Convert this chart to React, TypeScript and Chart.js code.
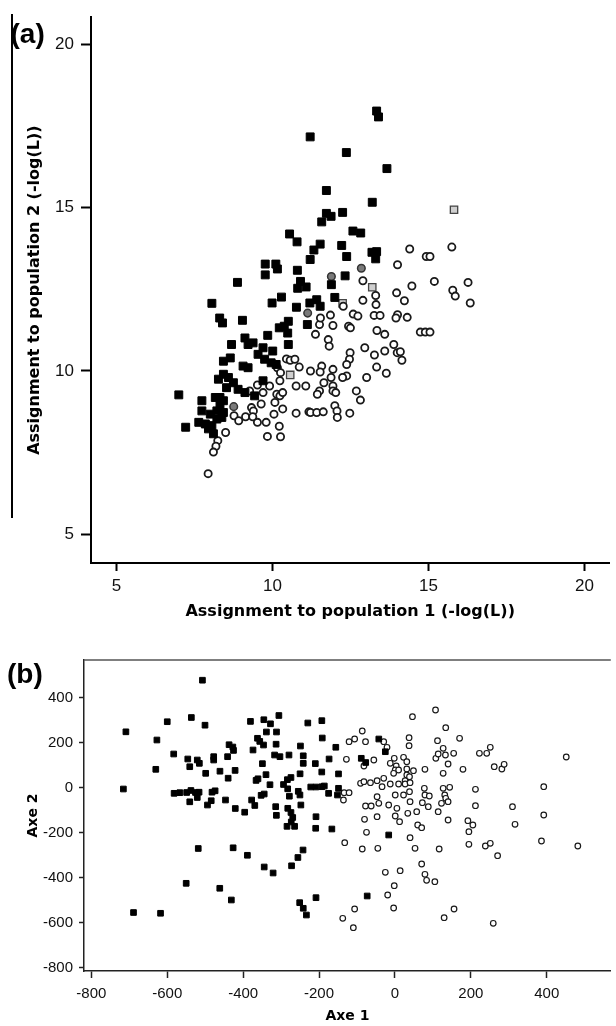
import React, { useEffect, useRef } from "react";
import { Chart, registerables } from "chart.js";

Chart.register(...registerables);

// ---------- Panel (a): assignment log-likelihoods ----------
const aTicks = [5, 10, 15, 20];

const aPop1X = [13.34,13.40,11.21,12.37,13.67,11.73,13.20,12.25,11.73,11.88,11.58,12.58,12.83,10.55,10.79,11.53,12.22,11.33,13.19,13.34,13.31,12.38,11.21,9.77,10.11,9.77,10.16,10.80,12.33,8.88,10.90,10.81,11.08,11.89,10.29,9.99,12.00,8.06,10.77,11.20,11.42,11.53,8.31,9.04,10.51,8.40,11.12,10.38,10.49,10.51,8.69,9.12,9.22,9.38,9.70,9.85,10.01,8.43,9.06,9.22,9.54,9.75,9.96,10.12,8.27,8.43,8.59,8.75,9.70,8.53,8.90,9.12,9.43,8.32,8.43,8.17,7.74,7.74,8.01,8.22,8.43,8.32,7.64,7.85,7.95,8.11,7.22,8.06,8.22,8.38,7.00,8.65,10.22];
const aPop1Y = [17.95,17.77,17.16,16.68,16.19,15.52,15.16,14.85,14.82,14.73,14.56,14.28,14.22,14.19,13.95,13.88,13.84,13.70,13.63,13.65,13.43,13.50,13.41,13.27,13.27,12.94,13.12,13.08,12.91,12.71,12.74,12.53,12.57,12.64,12.26,12.08,12.25,12.07,11.95,12.08,12.18,11.98,11.62,11.55,11.52,11.47,11.42,11.37,11.16,10.81,10.81,11.01,10.81,10.86,10.71,11.09,10.61,10.30,10.15,10.10,10.51,10.36,10.25,10.20,9.75,9.90,9.80,9.64,9.70,9.49,9.44,9.34,9.24,9.19,9.09,9.19,9.09,8.78,8.68,8.78,8.73,8.94,8.43,8.38,8.23,8.08,8.28,8.33,8.53,8.58,9.27,10.40,11.32];

const aPop2X = [14.40,15.75,14.93,15.05,14.01,12.90,14.47,15.19,16.27,15.78,15.86,16.34,13.31,13.32,13.98,14.23,12.90,12.27,11.86,12.59,12.74,13.26,13.45,14.01,14.32,13.96,14.74,14.90,15.05,13.35,13.60,12.44,12.50,11.94,11.51,11.38,11.79,11.82,12.96,13.89,14.00,14.10,14.15,13.60,13.27,12.49,12.47,12.38,13.34,13.65,13.02,10.45,10.57,10.72,10.16,10.26,10.86,11.22,11.58,11.53,11.94,11.88,11.94,12.38,12.25,10.24,10.76,11.07,11.51,11.44,11.94,12.03,12.69,12.82,10.14,10.24,9.52,9.27,9.70,10.08,9.64,9.33,9.39,8.77,8.92,9.14,9.37,9.80,9.52,10.05,10.33,10.76,11.17,11.22,11.42,11.63,12.00,12.07,12.08,12.48,10.22,10.26,9.84,8.50,8.25,8.19,8.11,7.94,11.65,9.91,11.54,10.33];
const aPop2Y = [13.73,13.79,13.50,13.50,13.25,12.76,12.60,12.74,12.71,12.47,12.29,12.08,12.31,12.03,12.39,12.15,12.16,11.98,11.71,11.74,11.68,11.70,11.70,11.72,11.64,11.62,11.19,11.19,11.19,11.24,11.12,11.37,11.32,11.39,11.42,11.12,10.96,10.76,10.71,10.81,10.56,10.59,10.33,10.61,10.49,10.56,10.36,10.20,10.12,9.93,9.80,10.37,10.33,10.36,10.10,9.95,10.12,10.00,10.15,9.97,10.05,9.80,9.54,9.85,9.80,9.70,9.54,9.54,9.39,9.29,9.39,9.34,9.39,9.11,9.29,9.24,9.57,9.39,9.34,9.04,8.99,8.88,8.78,8.63,8.48,8.60,8.60,8.43,8.43,8.68,8.84,8.71,8.75,8.73,8.73,8.75,8.94,8.78,8.58,8.71,8.31,7.99,8.00,8.12,7.87,7.70,7.52,6.86,9.64,9.54,11.62,9.34];

const aGrayCircX = [12.85, 11.89, 11.13, 8.76];
const aGrayCircY = [13.14, 12.89, 11.77, 8.91];
const aGraySqX = [15.82, 13.20, 12.25, 10.57];
const aGraySqY = [14.93, 12.56, 12.07, 9.88];

// ---------- Panel (b): factorial axes ----------
const bTicks = [-800, -600, -400, -200, 0, 200, 400];

const bPop1X = [-507.3,-709.0,-600.0,-536.5,-500.5,-627.3,-630.2,-715.6,-583.0,-545.9,-520.9,-515.4,-540.7,-498.7,-477.6,-477.6,-461.1,-441.0,-437.1,-427.2,-425.4,-421.2,-439.5,-581.9,-566.8,-548.8,-537.6,-525.6,-516.2,-540.7,-520.9,-494.0,-484.1,-482.0,-473.9,-446.5,-420.7,-395.9,-380.7,-345.5,-328.0,-305.8,-338.7,-312.1,-362.2,-356.2,-346.3,-313.2,-374.0,-349.2,-317.1,-303.0,-279.2,-249.0,-241.6,-241.6,-339.8,-360.9,-365.9,-329.3,-293.6,-283.4,-274.0,-250.0,-282.6,-254.7,-221.8,-208.2,-192.3,-186.1,-209.8,-192.8,-173.5,-155.8,-148.7,-229.6,-192.6,-191.5,-278.2,-250.3,-352.6,-344.5,-377.6,-369.3,-314.2,-312.4,-282.4,-274.0,-269.3,-273.2,-264.4,-284.4,-247.9,-208.0,-208.8,-166.2,-151.4,-174.8,-148.7,-518.3,-426.4,-388.8,-344.5,-321.0,-272.4,-255.7,-242.2,-550.1,-461.6,-431.1,-688.9,-617.7,-251.0,-241.6,-233.3,-208.0,-73.1,-16.4,-42.5,-25.3,-88.7,-77.0];
const bPop1Y = [477.8,248.4,293.3,312.0,277.8,212.0,81.8,-5.8,149.8,127.6,123.1,108.4,93.3,64.0,137.8,123.1,73.3,137.8,191.1,180.9,165.8,76.9,42.2,-24.9,-22.2,-21.3,-12.4,-21.3,-20.0,-62.7,-43.6,-76.9,-57.8,-20.0,-13.8,-54.7,-92.4,-108.9,294.7,302.2,284.0,320.9,247.6,247.6,219.6,205.8,189.8,193.3,167.6,106.7,145.3,137.8,145.3,185.3,141.8,108.4,57.8,39.6,32.4,13.3,14.2,35.6,45.3,61.8,-4.9,-16.0,3.1,3.1,4.4,7.6,107.1,69.8,127.6,179.6,61.3,287.6,297.8,220.9,-37.8,-32.4,-33.8,-28.0,-54.7,-79.1,-84.4,-122.7,-91.6,-110.2,-132.4,-152.4,-171.6,-171.6,-76.9,-128.9,-180.4,-183.6,-32.4,-24.9,-2.7,-270.2,-267.1,-300.4,-352.4,-379.1,-347.1,-310.2,-276.9,-424.9,-447.1,-499.1,-554.7,-558.2,-511.1,-536.0,-565.8,-488.9,-481.3,-210.2,216.4,160.0,130.7,112.0];

const bPop2X = [107.0,46.2,-86.1,-120.8,-106.2,-77.5,133.9,37.3,37.3,-29.5,-20.9,112.2,170.4,-127.9,-81.7,-55.6,-1.8,-12.3,3.4,22.7,31.3,107.8,114.0,127.1,133.1,154.8,140.1,222.6,241.9,251.3,261.7,281.8,287.8,179.3,127.1,79.1,48.8,31.3,31.3,26.9,0.8,9.7,-3.4,38.4,451.5,-90.6,-81.7,-64.5,-47.0,-29.5,-12.3,9.7,26.9,39.9,-33.9,-133.9,-120.8,-135.7,-77.5,-62.6,-47.0,-42.5,-16.4,0.8,5.2,22.7,38.4,39.9,57.4,77.5,79.1,90.6,72.3,87.9,127.1,144.3,131.3,133.9,140.1,122.7,114.0,212.2,212.2,309.8,316.5,392.2,392.2,482.0,386.2,-80.1,-74.9,-47.0,0.8,12.3,33.9,60.0,70.5,140.1,192.3,205.4,194.9,39.9,-132.3,-86.1,-45.1,53.0,116.6,194.9,238.3,251.3,270.6,-25.3,13.8,70.5,79.1,83.5,105.2,-1.8,-19.1,-3.4,-137.5,-106.2,-109.6,129.7,155.8,259.1];
const bPop2Y = [345.3,315.6,252.0,204.4,216.4,204.4,266.7,222.2,186.7,204.4,179.6,208.9,219.6,126.2,96.4,123.1,130.7,108.4,96.4,135.1,115.6,130.7,149.8,175.1,145.3,152.9,105.3,152.9,152.9,179.6,93.3,83.1,104.0,81.8,64.0,81.8,75.6,83.1,56.4,31.1,78.7,78.7,64.0,48.9,136.4,19.6,26.7,22.2,31.1,41.8,16.4,16.4,16.4,22.2,4.4,-22.2,-22.2,-54.7,-81.3,-81.3,-40.0,-69.3,-76.9,-32.4,-91.6,-32.4,-17.8,-62.2,-106.7,-2.7,-32.4,-36.9,-66.7,-84.4,-2.7,1.8,-32.4,-47.1,-62.2,-69.3,-106.7,-7.1,-80.0,-84.4,-162.7,4.4,-121.3,-259.1,-236.9,-140.4,-198.2,-128.9,-125.8,-151.1,-113.8,-165.8,-177.8,-143.6,-146.7,-165.8,-195.6,-222.2,-244.4,-272.4,-269.3,-269.3,-272.4,-251.6,-259.1,-247.1,-302.2,-376.0,-368.9,-339.1,-384.9,-411.6,-417.8,-435.6,-476.9,-534.7,-580.4,-539.1,-622.2,-577.8,-539.1,-602.7];

const zip = (xs: number[], ys: number[]) => xs.map((x, i) => ({ x, y: ys[i] }));

const TICK_FONT = "'Liberation Sans', Arial, sans-serif";
const TITLE_FONT = "'DejaVu Sans', Verdana, sans-serif";

const topFrame = {
  id: "topFrame",
  afterDraw(chart: any) {
    const { ctx, chartArea } = chart;
    ctx.save();
    ctx.strokeStyle = "#555";
    ctx.lineWidth = 1.5;
    ctx.beginPath();
    ctx.moveTo(chartArea.left, chartArea.top);
    ctx.lineTo(chartArea.right, chartArea.top);
    ctx.stroke();
    ctx.restore();
  },
};

function configA(): any {
  return {
    type: "scatter",
    data: {
      datasets: [
        { data: zip(aPop1X, aPop1Y), pointStyle: "rect", pointRadius: 5.6, backgroundColor: "#000", borderColor: "#000", borderWidth: 1 },
        { data: zip(aPop2X, aPop2Y), pointStyle: "circle", pointRadius: 3.6, backgroundColor: "#fff", borderColor: "#1a1a1a", borderWidth: 1.8 },
        { data: zip(aGrayCircX, aGrayCircY), pointStyle: "circle", pointRadius: 3.8, backgroundColor: "#7a7a7a", borderColor: "#333", borderWidth: 1.5 },
        { data: zip(aGraySqX, aGraySqY), pointStyle: "rect", pointRadius: 5.2, backgroundColor: "#cfcfcf", borderColor: "#444", borderWidth: 1.3 },
      ],
    },
    options: {
      responsive: false,
      animation: false,
      layout: { padding: { top: 14, left: 0, right: 0, bottom: 0 } },
      plugins: { legend: { display: false }, tooltip: { enabled: false } },
      scales: {
        x: {
          type: "linear",
          position: "bottom",
          min: 4.186,
          max: 20.8,
          afterBuildTicks: (s: any) => { s.ticks = aTicks.map((v) => ({ value: v })); },
          afterFit: (s: any) => { s.height = 67; },
          grid: { display: true, drawOnChartArea: false, drawTicks: true, tickLength: 8, tickWidth: 2, tickColor: "#000" },
          border: { display: true, color: "#000", width: 2 },
          ticks: { font: { family: TICK_FONT, size: 17 }, color: "#111", padding: 5, callback: (v: any) => String(v) },
          title: { display: true, text: "Assignment to population 1 (-log(L))", font: { family: TITLE_FONT, size: 16, weight: "bold" }, color: "#000", padding: { top: 0, bottom: 8.7 } },
        },
        y: {
          type: "linear",
          position: "left",
          min: 4.128,
          max: 20.82,
          afterBuildTicks: (s: any) => { s.ticks = aTicks.map((v) => ({ value: v })); },
          afterFit: (s: any) => { s.width = 91; },
          grid: { display: true, drawOnChartArea: false, drawTicks: true, tickLength: 10, tickWidth: 2, tickColor: "#000" },
          border: { display: true, color: "#000", width: 2 },
          ticks: { font: { family: TICK_FONT, size: 17 }, color: "#111", padding: 7, callback: (v: any) => String(v) },
          title: { display: true, text: "Assignment to population 2 (-log(L))", font: { family: TITLE_FONT, size: 16, weight: "bold" }, color: "#000", padding: { top: 25, bottom: 0 } },
        },
      },
    },
  };
}

function configB(): any {
  return {
    type: "scatter",
    data: {
      datasets: [
        { data: zip(bPop1X, bPop1Y), pointStyle: "rect", pointRadius: 4.0, backgroundColor: "#000", borderColor: "#000", borderWidth: 1 },
        { data: zip(bPop2X, bPop2Y), pointStyle: "circle", pointRadius: 2.8, backgroundColor: "#fff", borderColor: "#1a1a1a", borderWidth: 1.2 },
      ],
    },
    plugins: [topFrame],
    options: {
      responsive: false,
      animation: false,
      layout: { padding: { top: 30, left: 0, right: 0, bottom: 0 } },
      plugins: { legend: { display: false }, tooltip: { enabled: false } },
      scales: {
        x: {
          type: "linear",
          position: "bottom",
          min: -819.4,
          max: 568.9,
          afterBuildTicks: (s: any) => { s.ticks = bTicks.map((v) => ({ value: v })); },
          afterFit: (s: any) => { s.height = 55; },
          grid: { display: true, drawOnChartArea: false, drawTicks: true, tickLength: 7, tickWidth: 1.5, tickColor: "#222" },
          border: { display: true, color: "#222", width: 1.5 },
          ticks: { font: { family: TICK_FONT, size: 15 }, color: "#111", padding: 7, callback: (v: any) => String(v) },
          title: { display: true, text: "Axe 1", font: { family: TITLE_FONT, size: 14, weight: "bold" }, color: "#000", padding: { top: 0, bottom: 1 } },
        },
        y: {
          type: "linear",
          position: "left",
          min: -814.7,
          max: 567.6,
          afterBuildTicks: (s: any) => { s.ticks = bTicks.map((v) => ({ value: v })); },
          afterFit: (s: any) => { s.width = 84; },
          grid: { display: true, drawOnChartArea: false, drawTicks: true, tickLength: 5, tickWidth: 1.5, tickColor: "#222" },
          border: { display: true, color: "#222", width: 1.5 },
          ticks: { font: { family: TICK_FONT, size: 15 }, color: "#111", padding: 6, callback: (v: any) => String(v) },
          title: { display: true, text: "Axe 2", font: { family: TITLE_FONT, size: 14, weight: "bold" }, color: "#000", padding: { top: 25, bottom: 0 } },
        },
      },
    },
  };
}

export default function App() {
  const refA = useRef<HTMLCanvasElement>(null);
  const refB = useRef<HTMLCanvasElement>(null);

  useEffect(() => {
    const a = new Chart(refA.current as HTMLCanvasElement, configA());
    const b = new Chart(refB.current as HTMLCanvasElement, configB());
    return () => {
      a.destroy();
      b.destroy();
    };
  }, []);

  const labelStyle: React.CSSProperties = {
    position: "absolute",
    font: "bold 28px 'Liberation Sans', Arial, sans-serif",
    lineHeight: "28px",
    color: "#000",
    whiteSpace: "nowrap",
  };

  return (
    <div style={{ position: "absolute", left: 0, top: 0, width: 616, height: 1026, overflow: "hidden", background: "#fff" }}>
      <canvas ref={refA} width={616} height={630} style={{ position: "absolute", left: 0, top: 0 }} />
      <canvas ref={refB} width={616} height={396} style={{ position: "absolute", left: 0, top: 630 }} />
      <div style={{ position: "absolute", left: 11, top: 14, width: 1.5, height: 504, background: "#000" }} />
      <div style={{ ...labelStyle, left: 10.5, top: 20 }}>(a)</div>
      <div style={{ ...labelStyle, left: 7, top: 660 }}>(b)</div>
    </div>
  );
}
